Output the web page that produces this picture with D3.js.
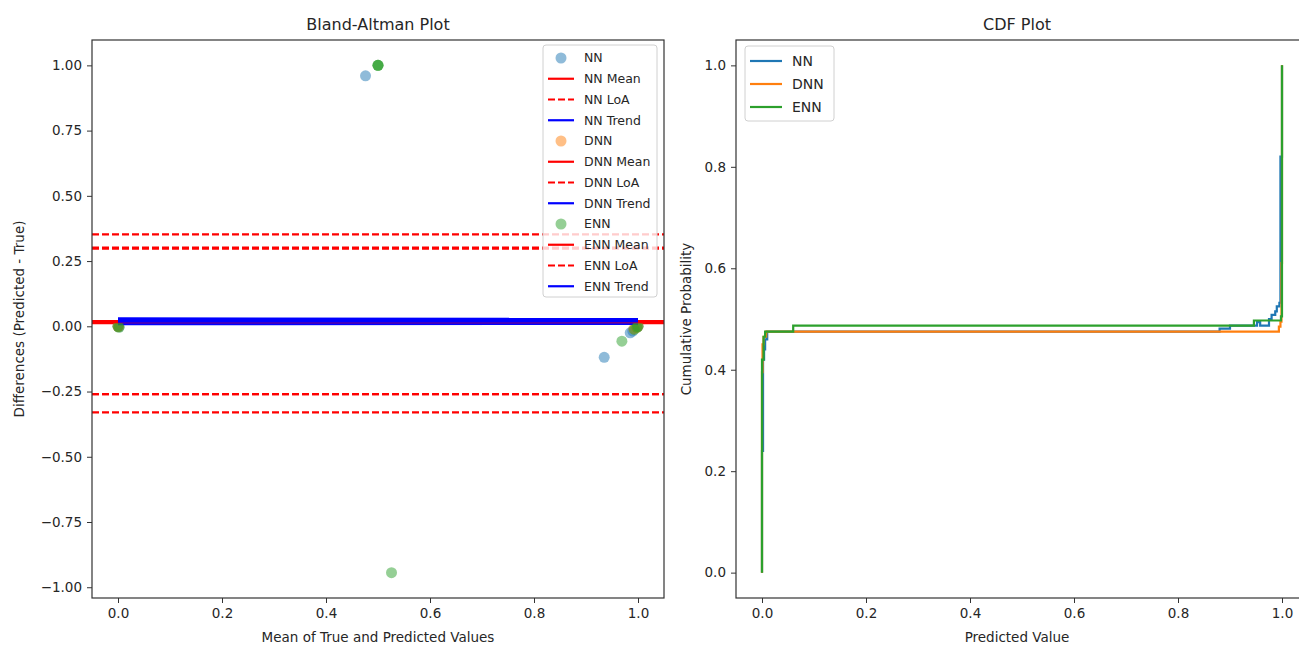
<!DOCTYPE html>
<html>
<head>
<meta charset="utf-8">
<script src="https://cdn.jsdelivr.net/npm/d3@7"></script>
<style>
  body { margin: 0; background: #fff; }
  text { font-family: "DejaVu Sans", sans-serif; fill: #262626; }
</style>
</head>
<body>
<div id="chart"></div>
<script>
// Bland-Altman scatter (mean of true & predicted, difference)
const nnMeans = [0, 0.002, 0.476, 0.935, 0.985, 0.99, 1.0];
const nnDiffs = [0, -0.002, 0.96, -0.119, -0.025, -0.018, 0];
const dnnMeans = [0, 0.001, 0.992, 0.997, 1.0];
const dnnDiffs = [0, -0.001, -0.01, -0.005, 0];
const ennMeans = [0, 0.002, 0.5, 0.5, 0.5, 0.526, 0.969, 0.993, 0.998, 1.0];
const ennDiffs = [0, -0.004, 1.0, 1.0, 1.0, -0.944, -0.057, -0.012, -0.004, 0];

// mean difference and limits of agreement
const models = ["NN", "DNN", "ENN"];
const meanDiff = [0.012, 0.02, 0.016];
const loaUpper = [0.352, 0.302, 0.298];
const loaLower = [-0.33, -0.26, -0.26];
// trend line values at x=0 and x=1
const trendStart = [0.029, 0.01, 0.019];
const trendEnd = [0.027, 0.011, 0.02];

// CDF knots: predicted value, cumulative probability
const nnCdfX = [0, 0.002, 0.004, 0.006, 0.01, 0.88, 0.9, 0.952, 0.958, 0.975, 0.98, 0.987, 0.99, 0.995, 0.997, 1.0];
const nnCdfY = [0.24, 0.42, 0.44, 0.46, 0.475, 0.481, 0.487, 0.494, 0.487, 0.5, 0.508, 0.515, 0.525, 0.532, 0.82, 1.0];
const dnnCdfX = [0, 0.001, 0.003, 0.008, 0.994, 0.997, 0.999, 1.0];
const dnnCdfY = [0.395, 0.45, 0.465, 0.475, 0.485, 0.495, 0.61, 1.0];
const ennCdfX = [0, 0.003, 0.006, 0.06, 0.946, 0.998, 1.0];
const ennCdfY = [0.42, 0.465, 0.475, 0.487, 0.497, 0.505, 1.0];

const xTicks = [0, 0.2, 0.4, 0.6, 0.8, 1.0];
const baTicks = [-1, -0.75, -0.5, -0.25, 0, 0.25, 0.5, 0.75, 1.0];
const cdfTicks = [0, 0.2, 0.4, 0.6, 0.8, 1.0];

const colors = {NN: "#1f77b4", DNN: "#ff7f0e", ENN: "#2ca02c"};

const W = 1299, H = 646;
const svg = d3.select("#chart").append("svg")
  .attr("width", W).attr("height", H);

const padded = (ext) => {
  const r = ext[1] - ext[0];
  return [ext[0] - r * 0.05, ext[1] + r * 0.05];
};

function styleAxis(g) {
  g.select(".domain").remove();
  g.selectAll(".tick line").attr("stroke", "#333").attr("stroke-width", 1);
  g.selectAll(".tick text").style("font-size", "13.5px").attr("fill", "#262626");
}

function frame(x0, y0, w, h) {
  svg.append("rect")
    .attr("x", x0).attr("y", y0).attr("width", w).attr("height", h)
    .attr("fill", "none").attr("stroke", "#333").attr("stroke-width", 1.2);
}

// ---------- Bland-Altman ----------
const L = {left: 92, top: 40, width: 572, height: 558};
const allMeans = nnMeans.concat(dnnMeans, ennMeans);
const allDiffs = nnDiffs.concat(dnnDiffs, ennDiffs);
const xBA = d3.scaleLinear().domain(padded(d3.extent(allMeans)))
  .range([L.left, L.left + L.width]);
const yBA = d3.scaleLinear().domain(padded(d3.extent(allDiffs)))
  .range([L.top + L.height, L.top]);

const ba = svg.append("g");
const ptsSets = [[nnMeans, nnDiffs], [dnnMeans, dnnDiffs], [ennMeans, ennDiffs]];

models.forEach((m, i) => {
  const pts = d3.zip(ptsSets[i][0], ptsSets[i][1]);
  ba.append("g").selectAll("circle")
    .data(pts).join("circle")
    .attr("cx", d => xBA(d[0])).attr("cy", d => yBA(d[1]))
    .attr("r", 5.5)
    .attr("fill", colors[m]).attr("fill-opacity", 0.5);

  const hline = (v, dash) => ba.append("line")
    .attr("x1", L.left).attr("x2", L.left + L.width)
    .attr("y1", yBA(v)).attr("y2", yBA(v))
    .attr("stroke", "red").attr("stroke-width", 2.2)
    .attr("stroke-dasharray", dash);
  hline(meanDiff[i], null);
  hline(loaUpper[i], "7,3");
  hline(loaLower[i], "7,3");

  ba.append("line")
    .attr("x1", xBA(0)).attr("x2", xBA(1))
    .attr("y1", yBA(trendStart[i])).attr("y2", yBA(trendEnd[i]))
    .attr("stroke", "blue").attr("stroke-width", 3);
});

svg.append("g")
  .attr("transform", `translate(0,${L.top + L.height})`)
  .call(d3.axisBottom(xBA).tickValues(xTicks).tickFormat(d3.format(".1f")).tickSizeOuter(0).tickSize(5).tickPadding(5))
  .call(styleAxis);
svg.append("g")
  .attr("transform", `translate(${L.left},0)`)
  .call(d3.axisLeft(yBA).tickValues(baTicks).tickFormat(d3.format(".2f")).tickSizeOuter(0).tickSize(5).tickPadding(5))
  .call(styleAxis);
frame(L.left, L.top, L.width, L.height);

svg.append("text").attr("x", L.left + L.width / 2).attr("y", 30)
  .attr("text-anchor", "middle").style("font-size", "16px").text("Bland-Altman Plot");
svg.append("text").attr("x", L.left + L.width / 2).attr("y", 642)
  .attr("text-anchor", "middle").style("font-size", "13.5px").text("Mean of True and Predicted Values");
svg.append("text").attr("transform", `translate(24,${L.top + L.height / 2}) rotate(-90)`)
  .attr("text-anchor", "middle").style("font-size", "13.5px").text("Differences (Predicted - True)");

// legend (left)
const lg = svg.append("g").attr("transform", "translate(543,45)");
lg.append("rect").attr("width", 114).attr("height", 252).attr("rx", 3)
  .attr("fill", "#fff").attr("fill-opacity", 0.8).attr("stroke", "#d0d0d0");
const legItems = [];
models.forEach(m => {
  legItems.push({label: m, type: "dot", color: colors[m]});
  legItems.push({label: m + " Mean", type: "line", color: "red"});
  legItems.push({label: m + " LoA", type: "dash", color: "red"});
  legItems.push({label: m + " Trend", type: "line", color: "blue"});
});
const li = lg.selectAll("g.item").data(legItems).join("g")
  .attr("class", "item")
  .attr("transform", (d, i) => `translate(0,${13 + i * 20.75})`);
li.filter(d => d.type === "dot").append("circle")
  .attr("cx", 18).attr("r", 5.5).attr("fill", d => d.color).attr("fill-opacity", 0.5);
li.filter(d => d.type !== "dot").append("line")
  .attr("x1", 5).attr("x2", 31).attr("stroke", d => d.color).attr("stroke-width", 2.2)
  .attr("stroke-dasharray", d => d.type === "dash" ? "7,3" : null);
li.append("text").attr("x", 41).attr("dy", "0.35em").style("font-size", "12.5px").text(d => d.label);

// ---------- CDF ----------
const R = {left: 736, top: 40, width: 572, height: 558};
const xC = d3.scaleLinear().domain([-0.05, 1.05]).range([R.left, R.left + R.width]);
const yC = d3.scaleLinear().domain([-0.05, 1.05]).range([R.top + R.height, R.top]);

svg.append("defs").append("clipPath").attr("id", "clipR")
  .append("rect").attr("x", R.left).attr("y", R.top).attr("width", R.width).attr("height", R.height);

const cdfSets = [[nnCdfX, nnCdfY], [dnnCdfX, dnnCdfY], [ennCdfX, ennCdfY]];
const stepLine = d3.line().x(d => xC(d[0])).y(d => yC(d[1])).curve(d3.curveStepAfter);
const cg = svg.append("g").attr("clip-path", "url(#clipR)");
models.forEach((m, i) => {
  const pts = [[cdfSets[i][0][0], 0]].concat(d3.zip(cdfSets[i][0], cdfSets[i][1]));
  cg.append("path").datum(pts)
    .attr("d", stepLine)
    .attr("fill", "none").attr("stroke", colors[m]).attr("stroke-width", 2.2);
});

svg.append("g")
  .attr("transform", `translate(0,${R.top + R.height})`)
  .call(d3.axisBottom(xC).tickValues(xTicks).tickFormat(d3.format(".1f")).tickSizeOuter(0).tickSize(5).tickPadding(5))
  .call(styleAxis);
svg.append("g")
  .attr("transform", `translate(${R.left},0)`)
  .call(d3.axisLeft(yC).tickValues(cdfTicks).tickFormat(d3.format(".1f")).tickSizeOuter(0).tickSize(5).tickPadding(5))
  .call(styleAxis);
frame(R.left, R.top, R.width, R.height);

svg.append("text").attr("x", 1017).attr("y", 30)
  .attr("text-anchor", "middle").style("font-size", "16px").text("CDF Plot");
svg.append("text").attr("x", 1017).attr("y", 642)
  .attr("text-anchor", "middle").style("font-size", "13.5px").text("Predicted Value");
svg.append("text").attr("transform", `translate(691,${R.top + R.height / 2}) rotate(-90)`)
  .attr("text-anchor", "middle").style("font-size", "13.5px").text("Cumulative Probability");

// legend (right)
const rg = svg.append("g").attr("transform", "translate(745,46)");
rg.append("rect").attr("width", 89).attr("height", 75).attr("rx", 3)
  .attr("fill", "#fff").attr("fill-opacity", 0.8).attr("stroke", "#d0d0d0");
const ri = rg.selectAll("g.item").data(models).join("g")
  .attr("class", "item")
  .attr("transform", (d, i) => `translate(0,${15 + i * 23})`);
ri.append("line").attr("x1", 5).attr("x2", 37)
  .attr("stroke", d => colors[d]).attr("stroke-width", 2.2);
ri.append("text").attr("x", 47).attr("dy", "0.35em").style("font-size", "14px").text(d => d);
</script>
</body>
</html>
